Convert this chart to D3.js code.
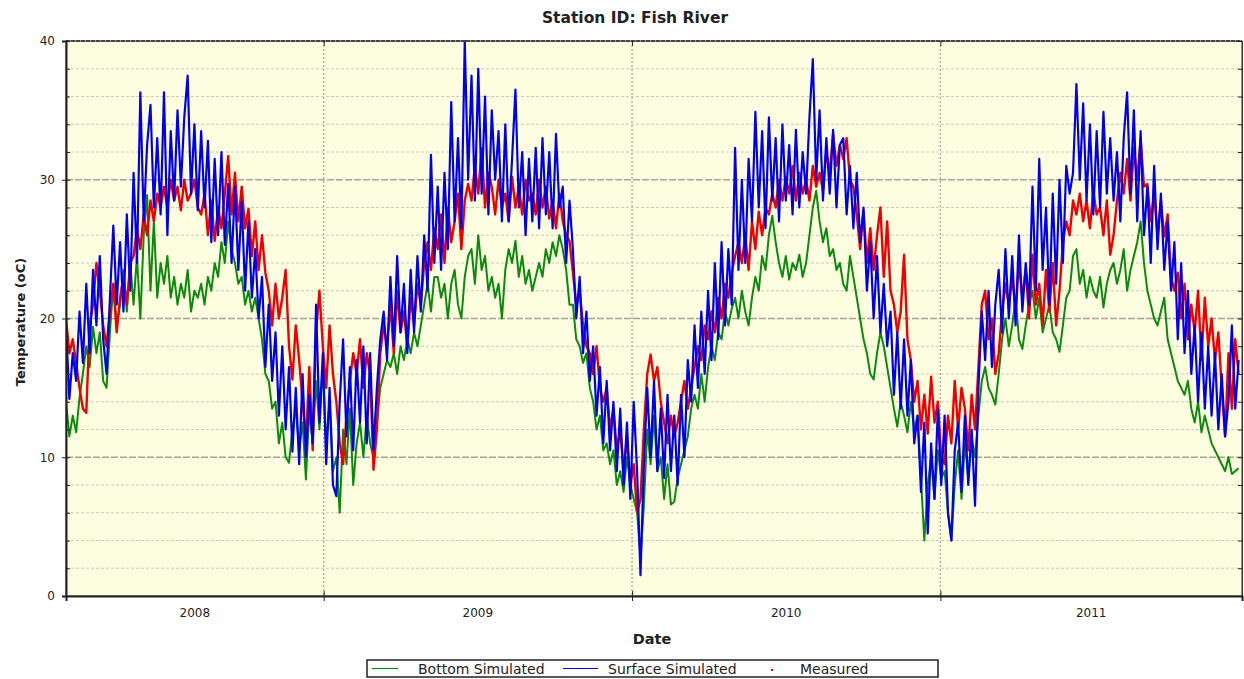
<!DOCTYPE html>
<html><head><meta charset="utf-8">
<script src="https://cdn.jsdelivr.net/npm/d3@7"></script>
<style>
body{margin:0;background:#fff;}
svg text{font-family:"DejaVu Sans",Verdana,sans-serif;fill:#222;}
</style>
</head><body>
<svg id="chart" width="1244" height="679"></svg>
<script>
// ---------------- data ----------------
const chartTitle = "Station ID: Fish River";
const xTitle = "Date";
const yTitle = "Temperature (oC)";
const startDate = "2008-03-02";
const endDate = "2011-12-24";
const stepDays = 4;
const yearLabels = ["2008", "2009", "2010", "2011"];
const yTickLabels = [0, 10, 20, 30, 40];
const legendLabels = ["Bottom Simulated", "Surface Simulated", "Measured"];

const surfaceSimulated = [
19.5,14.2,17.5,15.5,20.5,16.8,22.5,17.5,23.5,19.5,
24.5,18.5,16.0,21.5,26.7,21.0,25.5,20.5,27.5,22.0,
30.5,24.0,36.3,27.0,32.5,35.4,28.0,33.0,27.5,36.3,
26.0,33.5,28.5,35.0,29.5,34.5,37.5,29.0,34.0,27.8,
33.5,28.0,32.8,25.5,31.5,26.0,32.0,25.3,29.7,24.0,
29.5,23.5,28.4,22.0,27.0,21.5,25.0,20.0,23.0,16.5,
21.0,15.5,19.0,13.0,18.0,12.0,16.5,10.4,15.0,9.5,
16.0,10.0,14.5,11.0,21.0,12.5,17.5,9.5,15.0,8.0,
7.2,14.0,18.5,11.5,16.5,10.5,17.0,12.5,18.0,11.0,
17.5,10.5,15.0,18.5,20.5,17.0,23.0,18.0,24.5,19.0,
22.5,17.5,23.5,19.0,24.5,20.5,26.0,22.0,31.8,24.0,
29.5,23.5,30.5,25.0,35.6,27.0,33.0,26.5,40.0,30.0,
37.5,28.5,38.0,29.0,36.0,27.5,35.0,30.0,33.5,27.0,
34.0,27.0,31.5,36.5,28.0,32.0,26.0,31.5,27.0,32.3,
26.5,33.0,27.5,32.0,26.5,33.3,28.0,29.5,24.0,28.5,
25.0,20.0,23.0,17.5,20.5,15.5,18.0,13.0,16.5,11.0,
15.5,10.5,14.0,9.0,13.5,8.0,12.5,7.0,14.0,9.0,
1.5,9.5,15.0,10.0,15.5,9.0,13.5,8.5,14.5,9.0,
13.0,8.0,14.5,10.0,17.0,14.0,19.5,15.0,20.5,16.0,
22.0,17.0,24.0,18.5,25.5,19.5,25.0,21.0,32.3,23.5,
30.0,24.0,31.5,27.0,34.9,28.0,33.5,26.5,34.5,28.5,
33.0,27.0,34.0,28.5,32.5,27.5,33.6,28.0,32.0,29.0,
34.5,38.7,30.0,35.0,28.5,33.0,29.0,33.6,28.0,32.5,
33.0,27.5,31.0,26.5,30.5,25.5,28.0,22.0,25.5,20.0,
24.5,19.0,22.5,18.0,20.5,14.5,19.0,13.5,18.5,13.0,
17.0,11.0,13.0,7.5,12.5,4.5,11.0,7.0,13.5,8.0,
13.0,6.0,4.0,10.5,12.5,7.5,13.0,8.0,12.0,6.5,
15.0,20.5,17.0,22.0,16.5,21.0,23.5,19.0,25.0,20.0,
24.5,19.5,26.0,20.5,24.0,21.0,29.5,22.0,31.5,23.5,
28.0,21.0,29.0,22.5,30.0,24.0,31.0,29.0,30.5,36.9,
30.0,35.5,28.5,34.0,27.5,33.5,28.0,34.9,29.0,33.0,
28.5,32.0,27.0,33.0,36.3,29.0,35.0,27.0,33.5,26.0,
29.5,24.0,31.0,25.0,29.0,23.5,27.0,22.0,25.5,18.5,
24.0,17.5,22.0,16.0,19.5,14.0,19.0,13.5,18.0,13.0,
17.5,12.0,16.0,11.5,14.0,19.5,13.5,17.0
];

const bottomSimulated = [
14.0,11.5,13.0,11.8,14.3,16.0,18.0,16.5,19.4,17.5,
19.0,15.5,15.0,19.0,22.5,19.5,21.0,23.5,20.5,24.0,
21.0,24.5,20.0,26.0,28.9,22.0,27.0,21.5,24.0,22.5,
24.5,21.5,23.0,21.0,22.5,21.5,23.5,20.5,22.0,21.5,
22.5,21.0,23.0,22.0,24.0,23.0,25.5,24.0,27.0,25.0,
24.0,22.5,23.0,21.0,22.0,20.5,21.5,20.0,18.5,16.0,
15.5,13.5,14.0,11.0,12.5,10.0,9.6,12.0,13.5,10.5,
12.5,8.4,13.5,11.0,15.5,12.0,16.5,11.0,14.0,9.0,
10.0,6.0,12.0,9.5,13.5,8.0,11.0,12.5,10.0,13.0,
11.0,10.0,12.5,15.0,16.0,17.0,16.5,17.5,16.0,18.0,
17.0,18.5,17.5,19.0,18.0,19.5,21.0,22.5,20.5,23.0,
23.0,21.5,22.5,20.0,22.5,23.5,21.0,20.0,23.0,24.5,
25.0,22.5,26.0,23.5,24.5,22.0,23.0,21.5,22.5,20.0,
23.5,25.0,24.0,25.6,23.0,24.5,22.5,23.5,22.0,23.0,
24.0,23.0,25.0,24.0,25.5,24.5,26.0,25.0,23.5,21.0,
21.0,18.5,18.0,16.8,17.5,15.0,14.0,12.0,13.0,10.5,
11.0,9.5,10.5,8.0,9.0,7.5,10.0,8.0,7.0,6.0,
2.7,6.5,12.0,9.5,13.0,9.0,10.0,7.0,9.5,6.6,
6.8,8.5,9.5,10.5,11.5,13.5,14.5,13.5,16.0,14.0,
16.5,18.0,17.0,19.0,18.5,20.5,19.5,20.7,21.5,20.0,
22.0,20.5,19.5,21.5,23.0,22.0,24.5,23.5,26.0,27.4,
25.5,24.0,23.0,24.5,22.8,24.0,23.5,24.6,23.0,24.0,
26.0,28.0,29.2,27.0,25.5,26.5,24.5,25.0,23.5,24.0,
22.5,22.0,24.5,23.0,21.5,20.0,18.5,17.5,16.0,15.6,
17.5,19.0,18.0,16.5,15.0,13.5,12.2,14.0,13.0,11.8,
14.0,12.0,13.0,8.5,4.0,8.0,10.0,7.0,10.5,8.5,
9.0,6.0,4.0,8.0,10.5,7.0,11.0,8.5,11.5,10.0,
13.0,15.5,16.5,15.0,14.5,13.8,16.0,18.5,20.0,18.0,
19.5,21.5,18.5,17.8,19.5,21.0,22.0,20.0,21.5,19.0,
20.0,21.0,19.0,18.5,17.6,19.5,21.5,22.0,24.5,25.0,
22.5,23.5,21.5,23.0,22.0,21.5,23.0,20.8,22.5,23.5,
24.0,22.5,23.5,25.0,22.0,23.5,24.5,25.5,27.0,24.0,
22.0,21.0,20.0,19.5,20.5,21.5,18.5,17.5,16.5,15.5,
15.0,14.5,15.5,13.5,12.5,14.0,11.8,13.0,12.0,11.0,
10.5,10.0,9.5,9.0,10.0,8.8,9.0,9.2
];

const measured = [
20.0,17.5,18.5,16.8,15.0,13.5,13.2,19.5,21.0,24.0,
22.0,19.5,18.0,20.5,22.5,19.0,21.5,23.0,21.0,24.0,
24.5,26.5,25.0,27.5,26.0,28.5,27.0,29.0,28.0,29.5,
28.0,30.0,28.5,29.5,27.8,30.0,28.5,29.0,30.0,28.0,
27.5,29.0,26.0,28.5,25.6,28.0,26.5,29.0,31.7,27.5,
30.5,27.0,29.5,26.5,27.9,24.5,27.0,23.5,26.0,23.3,
22.0,19.5,22.5,20.0,21.5,23.5,18.0,15.6,19.5,17.0,
14.0,11.0,16.5,10.5,19.0,22.0,18.0,15.0,19.5,16.0,
14.0,11.0,9.5,13.0,15.5,17.5,16.0,18.5,15.0,17.5,
16.0,9.1,12.0,17.5,19.5,18.0,21.0,17.5,22.0,19.0,
20.5,18.0,21.5,19.5,22.5,21.0,24.0,25.5,23.5,26.5,
25.0,27.5,24.0,28.0,25.5,27.0,29.0,25.0,28.5,29.7,
28.5,31.0,29.0,32.3,28.0,30.5,29.5,27.5,30.0,28.0,
29.0,27.0,30.2,28.0,29.5,27.5,30.0,28.5,29.0,27.5,
30.0,28.0,29.5,27.2,28.5,26.5,29.0,27.0,26.0,25.6,
23.3,21.0,22.0,19.5,18.0,17.5,16.0,18.0,15.0,14.0,
15.0,12.0,13.5,10.5,12.0,9.0,11.5,8.0,9.5,6.0,
7.0,12.0,16.0,17.4,15.5,16.5,14.0,12.5,11.0,13.0,
11.5,12.5,14.0,15.5,13.5,15.0,16.5,18.0,17.0,19.5,
18.5,20.5,19.0,21.5,20.0,22.5,21.5,23.3,24.5,25.5,
24.0,26.0,23.5,27.0,25.0,27.7,26.0,28.0,27.5,29.0,
28.0,30.0,28.5,30.2,29.0,31.0,28.5,30.5,29.0,30.0,
28.5,31.0,29.5,30.5,29.2,32.0,30.5,33.3,31.0,32.5,
31.5,33.0,30.0,29.5,27.5,25.0,27.7,24.0,26.5,23.5,
26.0,28.0,23.0,27.0,22.0,21.0,19.0,20.5,24.6,18.5,
17.0,14.0,15.5,12.0,14.5,11.7,15.8,12.5,14.0,10.0,
9.5,13.0,11.0,15.5,12.0,15.0,13.5,10.5,14.5,12.0,
16.5,21.0,22.0,18.5,20.0,16.0,17.5,20.5,22.5,21.0,
23.0,20.5,24.0,21.5,23.5,20.0,24.6,21.0,22.5,19.5,
23.5,20.5,24.0,19.5,22.0,25.5,27.0,26.0,28.5,27.5,
29.0,27.0,28.5,26.5,29.2,27.5,28.0,26.0,28.5,24.6,
26.0,28.5,30.5,29.0,31.5,28.5,32.3,30.0,33.0,29.5,
29.7,27.0,29.0,26.0,28.5,25.9,27.5,23.0,22.0,23.3,
20.0,22.5,18.5,21.0,19.0,22.0,17.0,21.5,18.0,20.0,
17.0,19.0,15.0,11.5,17.5,13.5,18.5,16.0
];

// ---------------- drawing ----------------
const P = {l: 66, r: 1242, t: 41, b: 596};
const colors = {bottom: "#0b8a0b", surface: "#0000f0", measured: "#f00000"};
const svg = d3.select("#chart");
const parse = d3.utcParse("%Y-%m-%d");
const t0 = parse(startDate), t1 = parse(endDate);
const x = d3.scaleUtc().domain([t0, t1]).range([P.l, P.r]);
const y = d3.scaleLinear().domain([0, 40]).range([P.b, P.t]);
const dateAt = i => d3.utcDay.offset(t0, i * stepDays);

svg.append("rect").attr("width", 1244).attr("height", 679).attr("fill", "#fff");
svg.append("rect").attr("x", P.l).attr("y", P.t).attr("width", P.r - P.l).attr("height", P.b - P.t)
  .attr("fill", "#fdfde0");

// horizontal grid
const gridVals = d3.range(2, 40, 2);
svg.append("g").selectAll("line").data(gridVals).join("line")
  .attr("x1", P.l).attr("x2", P.r)
  .attr("y1", d => y(d)).attr("y2", d => y(d))
  .attr("stroke", d => d % 10 === 0 ? "#a3a39b" : "#cacabe")
  .attr("stroke-width", d => d % 10 === 0 ? 1.6 : 1.1)
  .attr("stroke-dasharray", d => d % 10 === 0 ? "7,2" : "3,2");

// year boundaries
const yearStarts = yearLabels.slice(1).map(yv => parse(yv + "-01-01"));
svg.append("g").selectAll("line").data(yearStarts).join("line")
  .attr("x1", d => x(d)).attr("x2", d => x(d))
  .attr("y1", P.t).attr("y2", P.b)
  .attr("stroke", "#a8a8a0").attr("stroke-width", 1.3).attr("stroke-dasharray", "2,2");

// series
svg.append("clipPath").attr("id", "clip").append("rect")
  .attr("x", P.l).attr("y", P.t - 1).attr("width", P.r - P.l).attr("height", P.b - P.t + 1);
const line = d3.line().x((d, i) => x(dateAt(i))).y(d => y(d));
const plot = svg.append("g").attr("clip-path", "url(#clip)");
plot.append("path").datum(bottomSimulated).attr("d", line)
  .attr("fill", "none").attr("stroke", colors.bottom).attr("stroke-width", 2.0).attr("stroke-linejoin", "round");
plot.append("path").datum(measured).attr("d", line)
  .attr("fill", "none").attr("stroke", colors.measured).attr("stroke-width", 2.4).attr("stroke-linejoin", "round");
plot.append("path").datum(surfaceSimulated).attr("d", line)
  .attr("fill", "none").attr("stroke", colors.surface).attr("stroke-width", 2.2).attr("stroke-linejoin", "round");

// frame
svg.append("rect").attr("x", P.l).attr("y", P.t).attr("width", P.r - P.l).attr("height", P.b - P.t)
  .attr("fill", "none").attr("stroke", "#333").attr("stroke-width", 1);
svg.append("line").attr("x1", P.l).attr("x2", P.r).attr("y1", P.t).attr("y2", P.t)
  .attr("stroke", "#444").attr("stroke-width", 2).attr("stroke-dasharray", "4,1");

// y axis (labels + outside major ticks)
const yAxis = svg.append("g").attr("transform", `translate(${P.l},0)`)
  .call(d3.axisLeft(y).tickValues(yTickLabels).tickSize(4).tickPadding(7).tickFormat(d3.format("d")));
yAxis.select(".domain").attr("stroke", "#222").attr("stroke-width", 2);
yAxis.selectAll(".tick line").attr("stroke", "#222");
yAxis.selectAll("text").style("font-size", "12px").style("font-family", "DejaVu Sans, sans-serif").attr("fill", "#333");
// inside minor ticks left and right
svg.append("g").attr("transform", `translate(${P.l},0)`)
  .call(d3.axisRight(y).tickValues(d3.range(0, 41, 2)).tickSize(4).tickFormat(""))
  .call(g => { g.select(".domain").remove(); g.selectAll("line").attr("stroke", "#222"); });
svg.append("g").attr("transform", `translate(${P.r},0)`)
  .call(d3.axisLeft(y).tickValues(d3.range(0, 41, 2)).tickSize(4).tickFormat(""))
  .call(g => { g.select(".domain").attr("stroke", "#333"); g.selectAll("line").attr("stroke", "#222"); });

// x axis
const xAxis = svg.append("g").attr("transform", `translate(0,${P.b})`)
  .call(d3.axisBottom(x).tickValues(yearStarts).tickSize(5).tickFormat(""));
xAxis.select(".domain").attr("stroke", "#222").attr("stroke-width", 2);
xAxis.selectAll("line").attr("stroke", "#222");
svg.append("g").attr("transform", `translate(0,${P.b})`)
  .call(d3.axisTop(x).tickValues(yearStarts).tickSize(5).tickFormat(""))
  .call(g => { g.select(".domain").remove(); g.selectAll("line").attr("stroke", "#222"); });
svg.append("g").attr("transform", `translate(0,${P.t})`)
  .call(d3.axisBottom(x).tickValues(yearStarts).tickSize(5).tickFormat(""))
  .call(g => { g.select(".domain").remove(); g.selectAll("line").attr("stroke", "#222"); });

// year labels centred on the visible part of each year
svg.append("g").selectAll("text").data(yearLabels).join("text")
  .attr("x", d => {
    const a = d3.max([t0, parse(d + "-01-01")]);
    const b = d3.min([t1, parse((+d + 1) + "-01-01")]);
    return (x(a) + x(b)) / 2;
  })
  .attr("y", 617).attr("text-anchor", "middle")
  .style("font-size", "12px").attr("fill", "#333").text(d => d);

// titles
svg.append("text").attr("x", 635).attr("y", 23).attr("text-anchor", "middle")
  .style("font-size", "15.5px").style("font-weight", "bold").text(chartTitle);
svg.append("text").attr("x", 652).attr("y", 644).attr("text-anchor", "middle")
  .style("font-size", "14.5px").style("font-weight", "bold").text(xTitle);
svg.append("text").attr("transform", "translate(25,322) rotate(-90)").attr("text-anchor", "middle")
  .style("font-size", "13px").style("font-weight", "bold").text(yTitle);

// legend
const lg = svg.append("g");
lg.append("rect").attr("x", 367).attr("y", 660).attr("width", 571).attr("height", 17)
  .attr("fill", "#fff").attr("stroke", "#222").attr("stroke-width", 1.5);
const legendItems = [
  {label: legendLabels[0], color: colors.bottom, kind: "line", x0: 372, x1: 398, tx: 418},
  {label: legendLabels[1], color: colors.surface, kind: "line", x0: 563, x1: 598, tx: 608},
  {label: legendLabels[2], color: colors.measured, kind: "dot", x0: 772, x1: 772, tx: 800}
];
legendItems.forEach(it => {
  if (it.kind === "line") {
    lg.append("line").attr("x1", it.x0).attr("x2", it.x1).attr("y1", 668.5).attr("y2", 668.5)
      .attr("stroke", it.color).attr("stroke-width", 1.2);
  } else {
    lg.append("rect").attr("x", it.x0 - 1).attr("y", 669).attr("width", 2).attr("height", 2).attr("fill", it.color);
  }
  lg.append("text").attr("x", it.tx).attr("y", 674).style("font-size", "14px").attr("fill", "#111").text(it.label);
});
</script>
</body></html>
